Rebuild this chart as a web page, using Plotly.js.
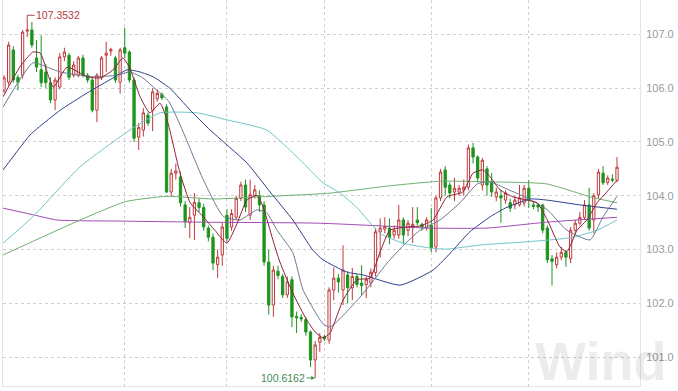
<!DOCTYPE html>
<html>
<head>
<meta charset="utf-8">
<script src="https://cdn.plot.ly/plotly-3.0.1.min.js"></script>
<style>html,body{margin:0;padding:0;background:#fff;}#chart{width:678px;height:391px;}</style>
</head>
<body>
<div id="chart"></div>
<script>
// Daily OHLC
const openP = [105.96,106.11,106.71,106.20,106.24,107.06,107.08,106.56,106.34,106.30,
106.10,105.78,106.02,106.58,106.61,106.24,106.24,106.56,106.24,106.15,
105.59,106.19,106.61,106.69,106.56,106.11,106.75,106.67,106.15,105.09,
105.22,105.50,105.59,105.80,105.88,105.65,104.07,104.42,104.35,103.83,
103.50,103.64,103.87,103.78,103.40,103.23,102.72,102.90,103.64,103.42,
103.60,103.95,104.20,103.64,104.00,104.00,103.83,102.77,101.97,102.60,
102.50,102.16,102.44,101.76,101.74,101.70,101.47,100.95,101.28,101.38,
101.32,102.25,102.47,102.25,102.53,102.29,102.50,102.38,102.35,102.38,
102.57,103.33,103.38,103.40,103.27,103.27,103.55,103.36,103.42,103.55,
103.47,103.40,103.45,103.05,103.96,104.48,104.20,104.07,104.07,104.11,
104.16,104.89,104.72,104.20,104.50,104.26,103.98,104.00,103.92,103.87,
103.83,103.83,103.87,104.14,103.83,103.83,103.83,103.40,102.83,102.72,
102.86,102.95,102.83,103.36,103.49,103.60,103.83,103.55,104.02,104.42,
104.25,104.31,104.29];
const highP = [106.24,106.86,106.78,106.25,107.08,107.3532,107.23,106.89,106.98,106.45,
106.20,106.20,106.65,106.75,106.65,106.50,106.60,106.62,106.28,106.20,
106.28,106.60,106.86,106.75,106.60,106.75,107.12,106.70,106.20,105.35,
105.63,105.55,106.00,105.98,105.92,105.70,104.50,104.60,104.45,103.90,
103.79,104.05,103.95,103.85,103.45,103.30,103.00,103.50,103.75,103.75,
104.00,104.26,104.30,104.30,104.20,104.10,103.90,103.00,102.70,102.70,
102.55,102.50,102.50,101.85,101.80,101.75,101.50,101.30,101.45,101.42,
102.30,102.67,102.55,103.08,102.60,102.66,102.55,102.71,102.50,102.65,
103.40,103.58,103.60,103.58,103.45,103.83,103.60,103.55,103.79,103.79,
103.50,103.60,103.77,104.00,104.50,104.55,104.25,104.33,104.20,104.30,
104.95,104.98,104.75,104.70,104.55,104.42,104.15,104.10,104.10,103.95,
104.00,104.20,104.20,104.29,103.90,103.85,103.85,103.45,102.90,102.95,
103.05,103.00,103.42,103.55,103.70,103.92,104.15,104.05,104.50,104.55,
104.38,104.40,104.72];
const lowP = [105.91,106.05,106.10,105.96,106.18,106.95,106.75,106.30,106.02,106.00,
105.72,105.59,105.98,106.50,106.15,106.20,106.20,106.20,106.10,105.55,
105.37,106.15,106.30,106.60,106.10,105.90,106.55,106.10,105.00,104.85,
105.10,105.30,105.20,105.75,105.78,104.05,104.00,104.30,103.80,103.40,
103.21,103.18,103.70,103.35,103.15,102.62,102.47,102.70,103.15,103.35,
103.55,103.90,103.70,103.55,103.95,103.70,102.70,101.79,101.75,102.45,
102.10,102.10,101.56,101.45,101.66,101.40,100.82,100.6162,101.10,101.30,
101.25,102.06,102.20,101.97,102.00,102.06,102.30,102.15,102.10,102.30,
102.50,102.85,103.30,103.10,103.20,103.20,103.10,103.25,103.12,103.45,
103.35,103.35,102.95,102.95,103.90,104.00,103.95,103.90,104.00,104.00,
104.10,104.60,104.25,104.10,104.00,103.98,103.90,103.50,103.85,103.70,
103.75,103.80,103.80,103.77,103.75,103.70,103.30,102.75,102.33,102.65,
102.80,102.68,102.75,103.30,103.45,103.55,103.35,103.30,103.95,104.20,
104.20,104.25,104.25];
const closeP = [106.19,106.80,106.15,106.11,107.04,107.08,106.80,106.39,106.10,106.10,
105.78,106.15,106.58,106.67,106.20,106.43,106.56,106.24,106.15,105.59,
106.24,106.56,106.65,106.72,106.15,106.71,106.65,106.15,105.07,105.27,
105.54,105.35,105.93,105.90,105.82,104.07,104.42,104.46,103.87,103.52,
103.60,103.88,103.78,103.42,103.23,102.75,102.86,103.42,103.21,103.67,
103.95,104.20,103.79,104.02,104.11,103.83,102.77,101.97,102.62,102.52,
102.16,102.40,101.75,101.73,101.71,101.47,100.95,101.23,101.37,101.34,
102.25,102.47,102.40,102.62,102.29,102.50,102.35,102.33,102.45,102.58,
103.33,103.40,103.43,103.23,103.36,103.55,103.27,103.49,103.47,103.50,
103.42,103.55,103.03,103.96,104.44,104.16,104.05,104.14,104.14,104.16,
104.89,104.72,104.33,104.66,104.20,104.07,104.07,103.96,104.05,103.77,
103.92,103.96,104.14,103.92,103.80,103.79,103.36,102.81,102.78,102.86,
102.95,102.86,103.36,103.49,103.60,103.83,103.40,104.00,104.44,104.24,
104.33,104.29,104.53];

// Moving-average lines (position in trading days, value)
const ma5Pos = [-0.2,3.4,6.2,7.8,10.6,13.6,17.9,20.7,23.5,25.6,27.1,29.3,31.4,33.6,35.1,35.7,37.9,40.1,42.9,45.4,48.0,50.2,52.3,54.5,55.8,57.9,59.4,62.2,65.2,67.0,68.7,70.2,73.0,76.0,78.8,81.0,83.1,86.8,89.6,92.4,95.4,98.8,101.0,103.1,104.7,106.8,109.6,112.6,114.8,117.0,119.7,121.2,123.4,125.5,127.7,129.8,132.0];
const ma5Val = [105.84,106.39,106.67,106.65,106.02,106.39,106.21,106.19,106.34,106.56,106.37,105.84,105.54,105.72,105.41,105.22,104.42,103.87,103.61,103.36,103.12,103.49,103.92,104.01,103.79,103.18,102.77,102.19,101.69,101.47,101.36,101.45,102.06,102.44,102.47,102.96,103.36,103.42,103.44,103.55,103.98,104.07,104.42,104.48,104.35,104.11,103.98,103.92,103.87,103.55,103.05,102.96,103.36,103.55,103.87,104.07,104.29];
const ma10Pos = [-0.2,6.2,9.3,12.1,19.2,24.3,27.1,29.9,32.9,35.5,38.5,42.9,47.2,50.8,54.5,56.6,58.8,62.2,64.4,68.7,70.2,76.7,82.5,85.9,89.6,93.9,98.2,101.9,104.7,107.4,112.6,117.0,121.2,126.2,129.0,132.0];
const ma10Val = [105.65,106.47,106.39,106.30,106.21,106.24,106.30,106.19,105.96,105.75,105.20,104.30,103.62,103.55,103.74,103.68,103.36,102.94,102.25,101.62,101.56,102.12,102.75,103.07,103.36,103.55,103.87,104.22,104.26,104.16,103.96,103.74,103.36,103.18,103.61,103.99];
const ma20Pos = [-0.2,5.6,7.3,12.1,17.9,23.5,26.5,29.3,32.1,35.7,40.1,44.4,52.3,57.3,62.2,66.5,68.7,73.9,77.3,85.3,92.4,96.7,100.3,104.7,107.9,113.3,116.9,124.0,132.0];
const ma20Val = [104.48,105.13,105.26,105.59,105.91,106.19,106.34,106.30,106.21,106.00,105.59,105.22,104.61,104.07,103.55,102.99,102.81,102.58,102.53,102.34,102.62,102.99,103.33,103.61,103.77,103.94,103.92,103.83,103.75];
const ma60Pos = [-0.2,6.2,16.4,27.1,33.6,41.6,48.0,56.6,63.7,68.7,72.4,76.0,81.0,85.9,91.7,95.4,103.1,111.8,121.9,127.7,132.0];
const ma60Val = [103.12,103.61,104.54,105.22,105.54,105.54,105.41,105.22,104.67,104.24,104.05,103.78,103.30,103.12,103.03,103.01,103.09,103.14,103.22,103.36,103.55];
const ma120Pos = [-0.2,16.4,26.1,35.1,45.0,55.1,70.2,82.5,93.9,104.0,116.9,126.2,132.0];
const ma120Val = [102.90,103.55,103.89,103.99,103.94,103.98,104.05,104.18,104.27,104.26,104.22,103.98,103.87];
const ma250Pos = [-0.2,5.6,11.4,25.0,42.2,68.0,91.7,104.0,116.9,132.0];
const ma250Val = [103.77,103.66,103.55,103.53,103.51,103.49,103.40,103.40,103.51,103.60];

const monthStarts = [26, 48, 69, 92, 113];
const priceTicks = [101, 102, 103, 104, 105, 106, 107];
const maxLabel = '107.3532', minLabel = '100.6162';

const dayIdx = openP.map((_, i) => i);
const hiIdx = highP.indexOf(Math.max(...highP));
const loIdx = lowP.indexOf(Math.min(...lowP));

function maTrace(xs, ys, color) {
  return {type:'scatter', mode:'lines', x:xs, y:ys, hoverinfo:'skip',
          line:{color:color, width:1, shape:'spline', smoothing:0.5}};
}

const traces = [
  maTrace(ma250Pos, ma250Val, '#a24bb5'),
  maTrace(ma120Pos, ma120Val, '#6fae6f'),
  maTrace(ma60Pos, ma60Val, '#72c6c8'),
  maTrace(ma20Pos, ma20Val, '#2f3f8c'),
  maTrace(ma10Pos, ma10Val, '#6c7894'),
  maTrace(ma5Pos, ma5Val, '#8e2036'),
  {type:'candlestick', x:dayIdx, open:openP, high:highP, low:lowP, close:closeP,
   whiskerwidth:0,
   increasing:{line:{color:'#c0393d', width:1}, fillcolor:'#ffffff'},
   decreasing:{line:{color:'#1d951d', width:1}, fillcolor:'#1d951d'},
   hoverinfo:'skip'}
];

const layout = {
  width:678, height:391,
  margin:{l:3, r:38, t:0, b:5},
  paper_bgcolor:'#ffffff', plot_bgcolor:'#ffffff',
  showlegend:false,
  xaxis:{type:'linear', range:[-0.22, 136.95], rangeslider:{visible:false},
         tickvals:monthStarts, showticklabels:false, ticks:'',
         showgrid:true, gridcolor:'#cfcfcf', griddash:'dot', gridwidth:1,
         zeroline:false, showline:true, mirror:true, linecolor:'#e4e4e4', linewidth:1},
  yaxis:{range:[100.466, 107.637], side:'right', tickvals:priceTicks, tickformat:'.1f',
         ticks:'', ticklabelstandoff:3,
         tickfont:{family:'Liberation Sans, Arial, sans-serif', size:11, color:'#9a9a9a'},
         showgrid:true, gridcolor:'#cfcfcf', griddash:'dot', gridwidth:1,
         zeroline:false, showline:true, mirror:true, linecolor:'#e4e4e4', linewidth:1},
  annotations:[
    {xref:'paper', yref:'paper', x:0.832, y:-0.018, xanchor:'left', yanchor:'bottom',
     text:'<b>Wind</b>', showarrow:false,
     font:{family:'Liberation Sans, Arial, sans-serif', size:54, color:'rgba(0,0,0,0.075)'}},
    {x:hiIdx, y:highP[hiIdx], xref:'x', yref:'y', text:maxLabel, showarrow:true,
     ax:31, ay:0, arrowhead:0, arrowwidth:1, arrowcolor:'#b4474b',
     font:{family:'Liberation Sans, Arial, sans-serif', size:10.5, color:'#b03a40'}},
    {x:loIdx, y:lowP[loIdx], xref:'x', yref:'y', text:minLabel, showarrow:true,
     ax:-32, ay:0, arrowhead:2, arrowsize:0.8, arrowwidth:1, arrowcolor:'#3f9a55',
     font:{family:'Liberation Sans, Arial, sans-serif', size:10.5, color:'#3f8a55'}}
  ]
};

Plotly.newPlot('chart', traces, layout, {staticPlot:true, displayModeBar:false});
</script>
</body>
</html>
